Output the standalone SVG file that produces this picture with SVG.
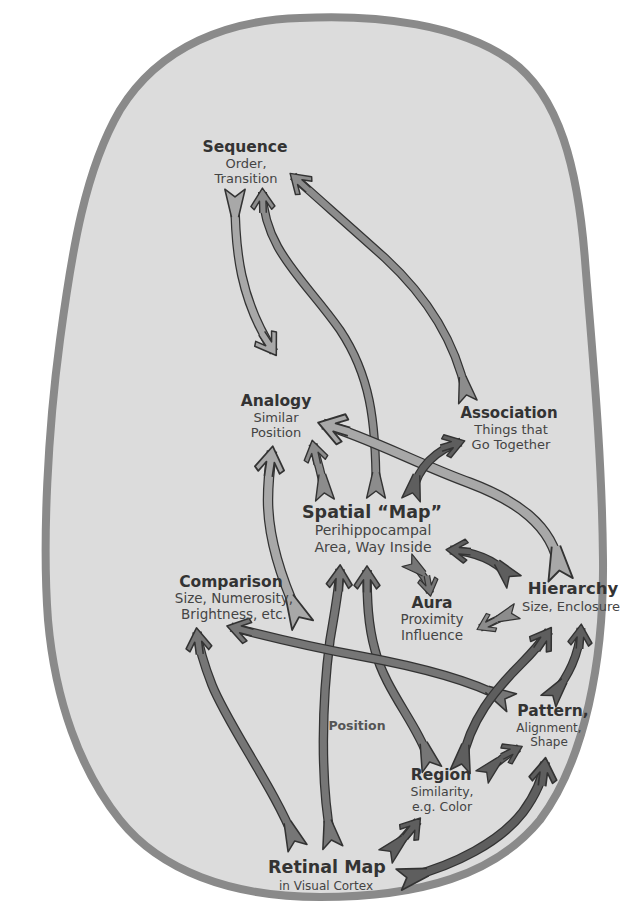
<svg xmlns="http://www.w3.org/2000/svg" width="640" height="904" viewBox="0 0 640 904">
<style>
.t{font-family:"DejaVu Sans","Liberation Sans",sans-serif;font-weight:bold;fill:#333;text-anchor:middle}
.s{font-family:"DejaVu Sans","Liberation Sans",sans-serif;fill:#444;text-anchor:middle}
.o{fill:none;stroke:#333;stroke-linecap:butt}
.L,.M,.X,.D{fill:none;stroke-linecap:butt}
.L{stroke:#a8a8a8;marker-start:url(#tL);marker-end:url(#hL)}
.M{stroke:#8c8c8c;marker-start:url(#tM);marker-end:url(#hM)}
.X{stroke:#767676;marker-start:url(#tX);marker-end:url(#hX)}
.D{stroke:#5e5e5e;marker-start:url(#tD);marker-end:url(#hD)}
.mk{stroke:#333;stroke-width:0.22;stroke-linejoin:round}
</style>
<defs>
<path id="hp" d="M-3.2,-0.5 L-1.4,-0.5 L-2.7,-1.35 L-2.2,-1.85 L0.6,0 L-2.2,1.85 L-2.7,1.35 L-1.4,0.5 L-3.2,0.5"/>
<path id="tp" d="M-2.6,-0.5 L1.4,-1.45 L0.3,0 L1.4,1.45 L-2.6,0.5"/>
<marker id="hL" markerUnits="strokeWidth" orient="auto" overflow="visible" markerWidth="1" markerHeight="1"><use href="#hp" class="mk" fill="#a8a8a8"/></marker>
<marker id="hM" markerUnits="strokeWidth" orient="auto" overflow="visible" markerWidth="1" markerHeight="1"><use href="#hp" class="mk" fill="#8c8c8c"/></marker>
<marker id="hX" markerUnits="strokeWidth" orient="auto" overflow="visible" markerWidth="1" markerHeight="1"><use href="#hp" class="mk" fill="#767676"/></marker>
<marker id="hD" markerUnits="strokeWidth" orient="auto" overflow="visible" markerWidth="1" markerHeight="1"><use href="#hp" class="mk" fill="#5e5e5e"/></marker>
<marker id="tL" markerUnits="strokeWidth" orient="auto-start-reverse" overflow="visible" markerWidth="1" markerHeight="1"><use href="#tp" class="mk" fill="#a8a8a8"/></marker>
<marker id="tM" markerUnits="strokeWidth" orient="auto-start-reverse" overflow="visible" markerWidth="1" markerHeight="1"><use href="#tp" class="mk" fill="#8c8c8c"/></marker>
<marker id="tX" markerUnits="strokeWidth" orient="auto-start-reverse" overflow="visible" markerWidth="1" markerHeight="1"><use href="#tp" class="mk" fill="#767676"/></marker>
<marker id="tD" markerUnits="strokeWidth" orient="auto-start-reverse" overflow="visible" markerWidth="1" markerHeight="1"><use href="#tp" class="mk" fill="#5e5e5e"/></marker>
</defs>
<rect width="640" height="904" fill="#ffffff"/>
<path id="blob" d="M300,18 C380,14 460,25 510,60 C560,95 578,170 585,260 C592,350 602,450 603,560 C604,660 585,760 540,820 C495,875 420,897 320,897 C230,897 160,870 120,820 C80,770 55,700 48,620 C42,540 48,430 60,340 C72,250 85,170 120,110 C160,45 230,20 300,18 Z" fill="#dcdcdc" stroke="#8a8a8a" stroke-width="8"/>
<g id="connectors">
<g id="seq-ana"><path class="o" stroke-width="9.5" d="M235,199 C235,250 240,300 274,352"/><path class="L" stroke-width="7" d="M235,199 C235,250 240,300 274,352"/></g>
<g id="spa-seq"><path class="o" stroke-width="9" d="M376,489 C376,420 370,375 340,330 C305,280 264,250 262.5,192"/><path class="M" stroke-width="6.5" d="M376,489 C376,420 370,375 340,330 C305,280 264,250 262.5,192"/></g>
<g id="ass-seq"><path class="o" stroke-width="9" d="M466,393 C455,340 425,295 385,258 C345,222 315,196 293,176"/><path class="M" stroke-width="6.5" d="M466,393 C455,340 425,295 385,258 C345,222 315,196 293,176"/></g>
<g id="spa-ana"><path class="o" stroke-width="9" d="M324,491 C322,472 316,458 313,444"/><path class="M" stroke-width="6.5" d="M324,491 C322,472 316,458 313,444"/></g>
<g id="cmp-ana"><path class="o" stroke-width="10.5" d="M298,615 C282,580 268,540 268,500 C268,480 270,465 272,451"/><path class="L" stroke-width="8" d="M298,615 C282,580 268,540 268,500 C268,480 270,465 272,451"/></g>
<g id="hie-ana"><path class="o" stroke-width="11" d="M559,568 C553,525 515,500 470,483 C420,465 370,438 323,424"/><path class="L" stroke-width="8.5" d="M559,568 C553,525 515,500 470,483 C420,465 370,438 323,424"/></g>
<g id="spa-ass"><path class="o" stroke-width="9" d="M413,491 C418,468 435,450 461,442"/><path class="D" stroke-width="6.5" d="M413,491 C418,468 435,450 461,442"/></g>
<g id="hie-spa"><path class="o" stroke-width="9" d="M508,575 C495,560 475,552 450,550"/><path class="D" stroke-width="6.5" d="M508,575 C495,560 475,552 450,550"/></g>
<g id="hie-aura"><path class="o" stroke-width="8" d="M510,614 C500,618 490,623 480,628"/><path class="M" stroke-width="5.5" d="M510,614 C500,618 490,623 480,628"/></g>
<g id="spa-aura"><path class="o" stroke-width="8" d="M413,565 C422,572 428,582 430,593"/><path class="X" stroke-width="5.5" d="M413,565 C422,572 428,582 430,593"/></g>
<g id="ret-cmp"><path class="o" stroke-width="9.5" d="M294,839 C275,790 228,725 212,685 C203,662 199,648 197,632"/><path class="X" stroke-width="7" d="M294,839 C275,790 228,725 212,685 C203,662 199,648 197,632"/></g>
<g id="ret-spa"><path class="o" stroke-width="9.5" d="M331,838 C320,780 322,700 330,640 C335,610 339,590 340,569"/><path class="X" stroke-width="7" d="M331,838 C320,780 322,700 330,640 C335,610 339,590 340,569"/></g>
<g id="reg-spa"><path class="o" stroke-width="9.5" d="M429,760 C418,725 385,690 375,650 C368,625 367,600 367,570"/><path class="X" stroke-width="7" d="M429,760 C418,725 385,690 375,650 C368,625 367,600 367,570"/></g>
<g id="pat-cmp"><path class="o" stroke-width="9.5" d="M503,698 C470,680 420,667 360,656 C300,645 258,634 231,627"/><path class="X" stroke-width="7" d="M503,698 C470,680 420,667 360,656 C300,645 258,634 231,627"/></g>
<g id="reg-hie"><path class="o" stroke-width="9.5" d="M462,762 C470,720 495,690 520,665 C535,650 543,640 549,631"/><path class="D" stroke-width="7" d="M462,762 C470,720 495,690 520,665 C535,650 543,640 549,631"/></g>
<g id="pat-hie"><path class="o" stroke-width="9" d="M554,694 C568,676 579,656 581,628"/><path class="D" stroke-width="6.5" d="M554,694 C568,676 579,656 581,628"/></g>
<g id="reg-pat"><path class="o" stroke-width="8.5" d="M488,771 C497,762 507,754 519,748"/><path class="D" stroke-width="6" d="M488,771 C497,762 507,754 519,748"/></g>
<g id="ret-reg"><path class="o" stroke-width="9" d="M392,850 C401,841 410,831 418,821"/><path class="D" stroke-width="6.5" d="M392,850 C401,841 410,831 418,821"/></g>
<g id="ret-pat"><path class="o" stroke-width="10" d="M409,877 C455,865 500,842 523,812 C537,793 543,778 545,762"/><path class="D" stroke-width="7.5" d="M409,877 C455,865 500,842 523,812 C537,793 543,778 545,762"/></g>
</g>
<g id="sequence"><text class="t" x="245" y="152" font-size="15.5">Sequence</text><text class="s" x="246" y="168" font-size="13">Order,</text><text class="s" x="246" y="183" font-size="13">Transition</text></g>
<g id="analogy"><text class="t" x="276" y="406" font-size="15.5">Analogy</text><text class="s" x="276" y="422" font-size="13">Similar</text><text class="s" x="276" y="437" font-size="13">Position</text></g>
<g id="association"><text class="t" x="509" y="418" font-size="15">Association</text><text class="s" x="511" y="434" font-size="13">Things that</text><text class="s" x="511" y="449" font-size="13">Go Together</text></g>
<g id="spatial-map"><text class="t" x="372" y="518" font-size="17.5">Spatial “Map”</text><text class="s" x="373" y="535" font-size="14">Perihippocampal</text><text class="s" x="373" y="551.5" font-size="14">Area, Way Inside</text></g>
<g id="comparison"><text class="t" x="231" y="587" font-size="15.5">Comparison</text><text class="s" x="234" y="603" font-size="13.5">Size, Numerosity,</text><text class="s" x="234" y="619" font-size="13.5">Brightness, etc.</text></g>
<g id="aura"><text class="t" x="432" y="608" font-size="15.5">Aura</text><text class="s" x="432" y="624" font-size="13.5">Proximity</text><text class="s" x="432" y="640" font-size="13.5">Influence</text></g>
<g id="hierarchy"><text class="t" x="573" y="594" font-size="16.5">Hierarchy</text><text class="s" x="571" y="611" font-size="13">Size, Enclosure</text></g>
<g id="pattern"><text class="t" x="553" y="716" font-size="15.5">Pattern,</text><text class="s" x="549" y="731.5" font-size="12">Alignment,</text><text class="s" x="549" y="745.5" font-size="12">Shape</text></g>
<g id="position-label"><text class="t" x="357" y="730" font-size="12.5" style="fill:#555">Position</text></g>
<g id="region"><text class="t" x="441" y="780" font-size="15.5">Region</text><text class="s" x="442" y="796" font-size="12.5">Similarity,</text><text class="s" x="442" y="811" font-size="12.5">e.g. Color</text></g>
<g id="retinal-map"><text class="t" x="327" y="873" font-size="17.5">Retinal Map</text><text class="s" x="326" y="889.5" font-size="12">in Visual Cortex</text></g>
</svg>
